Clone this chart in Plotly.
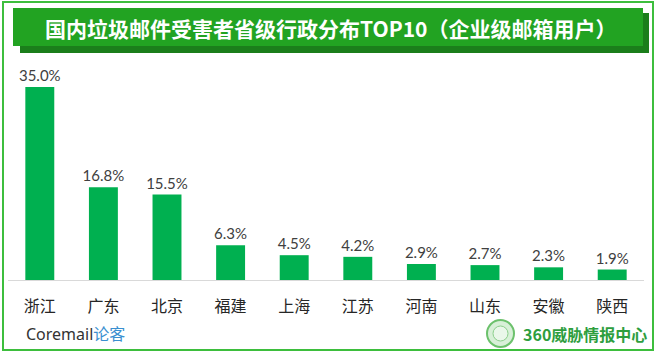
import plotly.graph_objects as go

provinces = ["浙江", "广东", "北京", "福建", "上海", "江苏", "河南", "山东", "安徽", "陕西"]
shares = [35.0, 16.8, 15.5, 6.3, 4.5, 4.2, 2.9, 2.7, 2.3, 1.9]
value_labels = [f"{v:.1f}%" for v in shares]
title_text = "国内垃圾邮件受害者省级行政分布TOP10（企业级邮箱用户）"

W, H = 657, 357
ML, MR, MT, MB = 8, 13, 60, 77
PW, PH = W - ML - MR, H - MT - MB


def px(x):
    return (x - ML) / PW


def py(y):
    return (H - MB - y) / PH


fig = go.Figure()
fig.add_trace(go.Bar(
    x=provinces, y=shares, text=value_labels, textposition="outside",
    constraintext="none",
    marker=dict(color="#00B050", line=dict(width=0)),
    textfont=dict(family="Lato, 'Noto Sans'", size=15, color="#404040"),
    cliponaxis=False, width=0.455,
))

shapes = [
    # outer frame
    dict(type="rect", xref="paper", yref="paper", x0=px(3), x1=px(653), y0=py(2), y1=py(350),
         line=dict(color="#3DBE3D", width=2), fillcolor="rgba(0,0,0,0)", layer="below"),
    # banner shadow
    dict(type="rect", xref="paper", yref="paper", x0=px(20), x1=px(649), y0=py(13), y1=py(53),
         line=dict(width=0), fillcolor="#1B7E1B", layer="below"),
    # banner
    dict(type="rect", xref="paper", yref="paper", x0=px(13), x1=px(643), y0=py(8), y1=py(46),
         line=dict(width=0), fillcolor="#22A322", layer="below"),
    # 360 logo emblem
    dict(type="circle", xref="paper", yref="paper", x0=px(487), x1=px(514), y0=py(320), y1=py(347),
         line=dict(color="#6CC16C", width=2), fillcolor="#D8F0D8"),
    dict(type="circle", xref="paper", yref="paper", x0=px(493), x1=px(508), y0=py(326), y1=py(341),
         line=dict(color="#8CCF8C", width=1), fillcolor="#EAF7EA"),
]

annotations = [
    dict(text=f"<b>{title_text}</b>", xref="paper", yref="paper", x=px(330), y=py(28),
         xanchor="center", yanchor="middle", showarrow=False,
         font=dict(family="Noto Sans CJK SC", size=21, color="white")),
    dict(text="Coremail<span style='color:#3A8FD0'>论客</span>", xref="paper", yref="paper",
         x=px(24), y=py(334), xanchor="left", yanchor="middle", showarrow=False,
         font=dict(family="'Noto Sans', 'Noto Sans CJK SC'", size=16, color="#333333")),
    dict(text="<b>360威胁情报中心</b>", xref="paper", yref="paper",
         x=px(649), y=py(334), xanchor="right", yanchor="middle", showarrow=False,
         font=dict(family="Noto Sans CJK SC", size=16, color="#2E9E3E")),
]

fig.update_layout(
    width=W, height=H,
    margin=dict(l=ML, r=MR, t=MT, b=MB),
    paper_bgcolor="white", plot_bgcolor="white",
    showlegend=False,
    shapes=shapes, annotations=annotations,
    bargap=0.545,
)
fig.update_xaxes(showline=True, linecolor="#D9D9D9", linewidth=1, ticks="",
                 ticklabelstandoff=12,
                 tickfont=dict(family="Noto Sans CJK SC", size=16, color="#262626"),
                 showgrid=False, fixedrange=True)
fig.update_yaxes(range=[0, 35 * PH / 193], visible=False, showgrid=False, fixedrange=True)

fig.write_html("out.html", config={"displayModeBar": False},
               post_script="document.body.style.margin='0';document.body.style.overflow='hidden';")
